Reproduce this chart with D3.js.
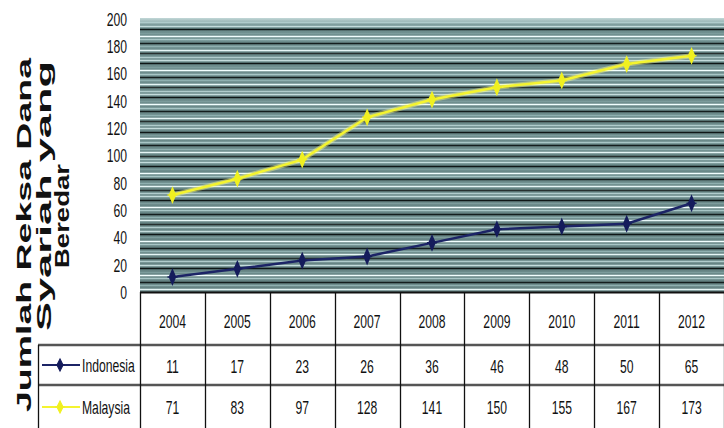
<!DOCTYPE html>
<html><head><meta charset="utf-8">
<script src="https://cdn.jsdelivr.net/npm/d3@7/dist/d3.min.js"></script>
<style>body{margin:0;background:#fff}svg{display:block}</style>
</head><body>
<svg id="c" width="724" height="428"></svg>
<script>
const years = ["2004","2005","2006","2007","2008","2009","2010","2011","2012"];
const indonesia = [11,17,23,26,36,46,48,50,65];
const malaysia = [71,83,97,128,141,150,155,167,173];
const yTicks = [0,20,40,60,80,100,120,140,160,180,200];
const seriesNames = ["Indonesia","Malaysia"];
const yTitle = ["Jumlah Reksa Dana","Syariah yang","Beredar"];

const svg = d3.select("#c");
const L = 140, R = 724, T = 19, B = 292;
const x = d3.scaleBand().domain(years).range([L, R]);
const y = d3.scaleLinear().domain([0, 200]).range([B, T]);
const font = "Arial,'Liberation Sans',sans-serif";
const SX = 0.64, FS = 19;

// plot background
const defs = svg.append("defs");
const g1 = defs.append("linearGradient").attr("id","bg").attr("x1",0).attr("y1",0).attr("x2",0).attr("y2",1);
g1.append("stop").attr("offset","0").attr("stop-color","#c2d8d8");
g1.append("stop").attr("offset","0.03").attr("stop-color","#6e8e8e");
g1.append("stop").attr("offset","1").attr("stop-color","#658383");
svg.append("rect").attr("x",L).attr("y",T-1).attr("width",R-L).attr("height",B-T+1).attr("fill","url(#bg)");

// dense striped gridlines
const minor = d3.range(0, 200, 2.5).filter(v => v > 0);
const stripeCols = ["#e6f6f6","#8fb0b0","#141e1e","#a8c6c6","#f2ffff","#7c9c9c","#0e1616","#c4dcdc","#b0cccc","#26302f"];
svg.append("g").selectAll("line").data(minor).join("line")
  .attr("x1",L).attr("x2",R)
  .attr("y1",d=>Math.round(y(d))+0.5).attr("y2",d=>Math.round(y(d))+0.5)
  .attr("stroke",(d,i)=>stripeCols[i%stripeCols.length])
  .attr("stroke-width",1.3);

// y tick labels (condensed)
svg.append("g").selectAll("text").data(yTicks).join("text")
  .attr("transform",d=>`translate(127,${y(d)}) scale(${SX},1)`).attr("dy","0.36em")
  .attr("text-anchor","end").attr("font-family",font).attr("font-size",FS).attr("fill","#111")
  .text(d=>d);

// y title (stretched)
const titlePos = [[24,235,354],[44,196,270],[62,216,104]];
yTitle.forEach((t,i)=>{
  svg.append("text").attr("transform",`translate(${titlePos[i][0]},${titlePos[i][1]}) rotate(-90)`)
    .attr("text-anchor","middle").attr("dy","0.35em").attr("font-family",font)
    .attr("font-weight","bold").attr("font-size",20).attr("fill","#111")
    .attr("textLength",titlePos[i][2]).attr("lengthAdjust","spacingAndGlyphs")
    .text(t);
});

// lines
const cx = d => x(d) + x.bandwidth()/2;
const line = d3.line().x((d,i)=>cx(years[i])).y(d=>y(d));
function marker(g, data, col){
  g.selectAll("path.m").data(data).join("path").attr("class","m")
    .attr("transform",(d,i)=>`translate(${cx(years[i])},${y(d)})`)
    .attr("d","M0,-7L3,0L0,7L-3,0Z M-5,0L5,0")
    .attr("fill",col).attr("stroke",col).attr("stroke-width",1.5);
}
const gm = svg.append("g");
gm.append("path").datum(malaysia).attr("d",line).attr("fill","none").attr("stroke","#ffff80").attr("stroke-width",5).attr("opacity",0.45);
gm.append("path").datum(malaysia).attr("d",line).attr("fill","none").attr("stroke","#f4f430").attr("stroke-width",2.5);
marker(gm, malaysia, "#f0f020");
const gi = svg.append("g");
gi.append("path").datum(indonesia).attr("d",line).attr("fill","none").attr("stroke","#1c2466").attr("stroke-width",2.5);
marker(gi, indonesia, "#151c5c");

// table
const tb = svg.append("g");
const colEdges = years.map(d=>x(d)).concat([R]);
tb.append("line").attr("x1",L).attr("x2",R).attr("y1",292.5).attr("y2",292.5).attr("stroke","#111").attr("stroke-width",2);
tb.selectAll("line.row").data([345,385]).join("line").attr("class","row")
  .attr("x1",38).attr("x2",R).attr("y1",d=>d).attr("y2",d=>d).attr("stroke","#555").attr("stroke-width",2.5);
tb.selectAll("line.col").data(colEdges).join("line").attr("class","col")
  .attr("x1",d=>Math.round(d)+0.5).attr("x2",d=>Math.round(d)+0.5).attr("y1",292).attr("y2",428)
  .attr("stroke","#111").attr("stroke-width",1.3);
tb.append("line").attr("x1",38.5).attr("x2",38.5).attr("y1",345).attr("y2",428).attr("stroke","#111").attr("stroke-width",1.3);

function ntext(g, cls, data, fx, fy){
  g.selectAll("text."+cls).data(data).join("text").attr("class",cls)
    .attr("transform",(d,i)=>`translate(${fx(d,i)},${fy(d,i)}) scale(${SX},1)`)
    .attr("dy","0.36em").attr("text-anchor","middle")
    .attr("font-family",font).attr("font-size",FS).attr("fill","#111").text(d=>d);
}
ntext(tb,"yr",years,d=>cx(d),()=>321);
ntext(tb,"v0",indonesia,(d,i)=>cx(years[i]),()=>366);
ntext(tb,"v1",malaysia,(d,i)=>cx(years[i]),()=>407);

// legend keys
const legCols = [["#1c2466","#151c5c"],["#f4f430","#f0f020"]];
seriesNames.forEach((n,r)=>{
  const yy = r===0?365:407;
  const g = tb.append("g");
  g.append("line").attr("x1",42).attr("x2",80).attr("y1",yy).attr("y2",yy).attr("stroke",legCols[r][0]).attr("stroke-width",2);
  g.append("path").attr("transform",`translate(60,${yy})`).attr("d","M0,-6L3,0L0,6L-3,0Z M-5,0L5,0")
    .attr("fill",legCols[r][1]).attr("stroke",legCols[r][1]).attr("stroke-width",1.2);
  g.append("text").attr("transform",`translate(82,${yy}) scale(${SX},1)`).attr("dy","0.36em").attr("font-family",font)
    .attr("font-size",FS).attr("fill","#111").text(n);
});
</script>
</body></html>
